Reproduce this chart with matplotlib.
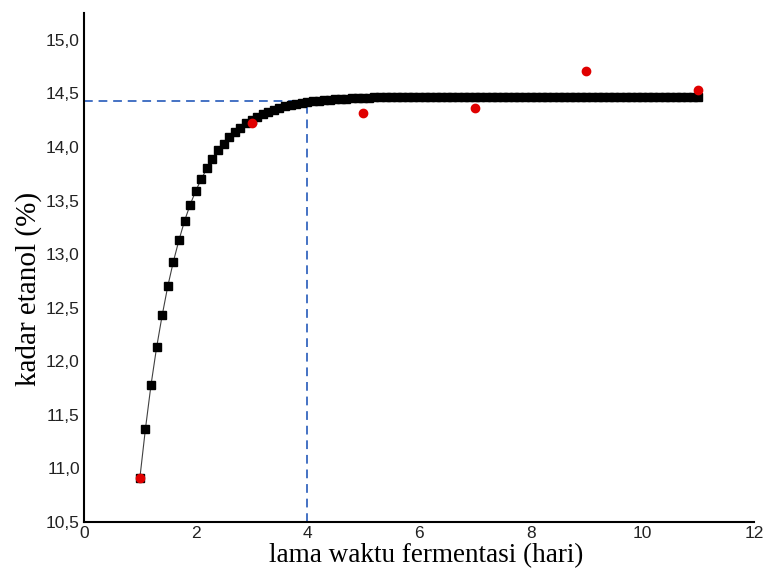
import numpy as np
import matplotlib
matplotlib.use("Agg")
import matplotlib.pyplot as plt
from matplotlib.ticker import FuncFormatter

# model curve, x = 1.0 .. 11.0 step 0.1
model_x = [round(1.0 + 0.1 * i, 1) for i in range(101)]
model_y = [
    10.91, 11.37, 11.78, 12.13, 12.43, 12.70, 12.93, 13.13, 13.31, 13.46,
    13.59, 13.70, 13.80, 13.89, 13.97, 14.03, 14.09, 14.14, 14.18, 14.22,
    14.25, 14.28, 14.31, 14.33, 14.35, 14.365, 14.38, 14.39, 14.40, 14.41,
    14.42, 14.43, 14.43, 14.44, 14.44, 14.45, 14.45, 14.45, 14.46, 14.46,
    14.46, 14.46, 14.465, 14.47, 14.47, 14.47, 14.47, 14.47, 14.47, 14.47,
    14.47, 14.47, 14.47, 14.47, 14.47, 14.47, 14.47, 14.47, 14.47, 14.47,
    14.47, 14.47, 14.47, 14.47, 14.47, 14.47, 14.47, 14.47, 14.47, 14.47,
    14.47, 14.47, 14.47, 14.47, 14.47, 14.47, 14.47, 14.47, 14.47, 14.47,
    14.47, 14.47, 14.47, 14.47, 14.47, 14.47, 14.47, 14.47, 14.47, 14.47,
    14.47, 14.47, 14.47, 14.47, 14.47, 14.47, 14.47, 14.47, 14.47, 14.47,
    14.47,
]

# observed data
obs_x = [1, 3, 5, 7, 9, 11]
obs_y = [10.91, 14.22, 14.32, 14.36, 14.71, 14.53]

# reference guide
guide_x = 4.0
guide_y = 14.43

x_ticks = [0, 2, 4, 6, 8, 10, 12]
y_ticks = [10.5, 11.0, 11.5, 12.0, 12.5, 13.0, 13.5, 14.0, 14.5, 15.0]

fig = plt.figure(figsize=(7.66, 5.75), dpi=100)
ax = fig.add_axes([0.1097, 0.0922, 0.8746, 0.885])

ax.set_xlim(0, 12)
ax.set_ylim(10.5, 15.25)

# dashed guide lines
ax.plot([0, guide_x], [guide_y, guide_y], color="#4472C4", lw=1.4,
        dashes=(4.5, 3), zorder=2)
ax.plot([guide_x, guide_x], [10.5, guide_y], color="#4472C4", lw=1.4,
        dashes=(4.5, 3), zorder=2)

# model curve
ax.plot(model_x, model_y, color="#404040", lw=0.8, zorder=3)
ax.plot(model_x, model_y, ls="none", marker="s", ms=5.3, color="black",
        zorder=4)

# observed points
ax.plot(obs_x, obs_y, ls="none", marker="o", ms=6, color="#E00000",
        markeredgecolor="#E00000", zorder=5)

for s in ["top", "right"]:
    ax.spines[s].set_visible(False)
for s in ["left", "bottom"]:
    ax.spines[s].set_linewidth(1.5)
    ax.spines[s].set_color("black")

ax.set_xticks(x_ticks)
ax.set_yticks(y_ticks)
ax.xaxis.set_major_formatter(FuncFormatter(lambda v, p: f"{v:.0f}"))
ax.yaxis.set_major_formatter(FuncFormatter(lambda v, p: f"{v:.1f}".replace(".", ",")))
ax.tick_params(axis="both", length=0, labelsize=12.5, colors="#222222")
ax.tick_params(axis="y", pad=3)
ax.tick_params(axis="x", pad=3)
for lab in ax.get_xticklabels() + ax.get_yticklabels():
    lab.set_fontfamily("Liberation Sans")

ax.set_xlabel("lama waktu fermentasi (hari)", fontfamily="Liberation Serif",
              fontsize=19.5)
ax.set_ylabel("kadar etanol (%)", fontfamily="Liberation Serif",
              fontsize=21)
ax.xaxis.set_label_coords(0.51, -0.042)
ax.yaxis.set_label_coords(-0.063, 0.458)

fig.savefig("out.png", dpi=100)
